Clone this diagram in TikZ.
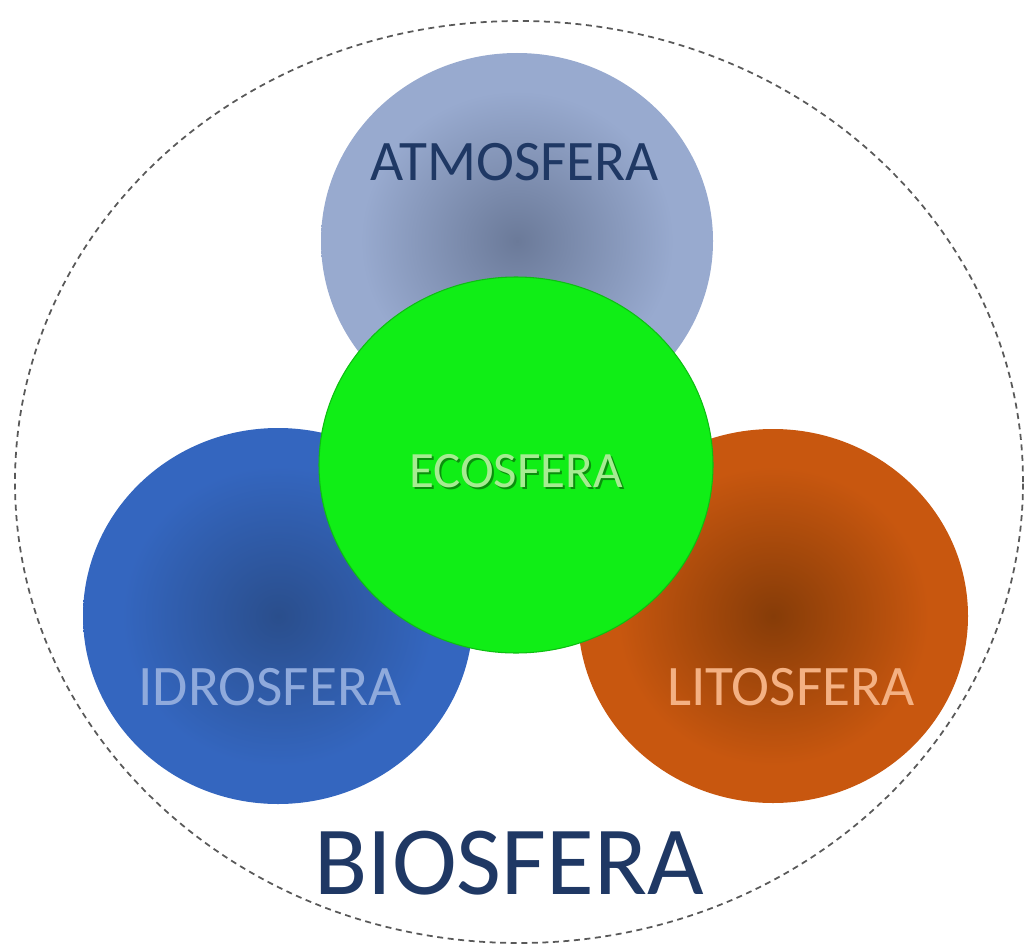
\documentclass[tikz,border=0pt]{standalone}
\usepackage{fontspec}
\setmainfont{Carlito}
\usepackage{tikz}

\definecolor{navy}{HTML}{1F3864}
\definecolor{atmoout}{HTML}{98AACF}
\definecolor{atmoin}{HTML}{6B7A99}
\definecolor{idroout}{HTML}{3466BF}
\definecolor{idroin}{HTML}{2A4E8C}
\definecolor{litoout}{HTML}{C8570F}
\definecolor{litoin}{HTML}{863C08}
\definecolor{ecogreen}{HTML}{10EE16}
\definecolor{ecotext}{HTML}{A6EC92}
\definecolor{idrotext}{HTML}{8FAADC}
\definecolor{litotext}{HTML}{F4B183}
\colorlet{sin}{black}
\colorlet{sout}{white}
\pgfdeclareradialshading[sin,sout]{sfera}{\pgfpoint{0bp}{0bp}}{color(0bp)=(sin); color(9bp)=(sin!55!sout); color(20bp)=(sout); color(50bp)=(sout)}

\begin{document}
\begin{tikzpicture}[
		sfera/.style={font=\fontsize{16.3}{18}\selectfont, inner sep=0pt},
		bordo/.style={gray!70!black, line width=0.5pt, dash pattern=on 1.7pt off 1.3pt}]
				\useasboundingbox (0,0) rectangle (10.25,9.46);
				\draw[bordo] (5.19,4.64) ellipse (5.04 and 4.61);
				\colorlet{sin}{atmoin}\colorlet{sout}{atmoout}
				\shade[shading=sfera] (5.17,7.05) ellipse (1.96 and 1.88);
				\colorlet{sin}{idroin}\colorlet{sout}{idroout}
				\shade[shading=sfera] (2.78,3.30) ellipse (1.95 and 1.88);
				\colorlet{sin}{litoin}\colorlet{sout}{litoout}
				\shade[shading=sfera] (7.73,3.30) ellipse (1.95 and 1.87);
				\fill[ecogreen] (5.16,4.81) ellipse (1.97 and 1.88);
				\draw[ecogreen!80!black, line width=0.3pt] (5.16,4.81) ellipse (1.97 and 1.88);
				\node[sfera, navy] (atmo) at (5.15,7.84) {ATMOSFERA};
				\node[sfera, idrotext] (idro) at (2.70,2.59) {IDROSFERA};
				\node[sfera, litotext] (lito) at (7.91,2.59) {LITOSFERA};
				\node[sfera, ecogreen!60!black, font=\fontsize{14.5}{16}\selectfont] at (5.18,4.73) {ECOSFERA};
				\node[sfera, ecotext, font=\fontsize{14.5}{16}\selectfont] (eco) at (5.16,4.75) {ECOSFERA};
				\node[sfera, navy, font=\fontsize{27.8}{30}\selectfont] (bio) at (5.09,0.83) {BIOSFERA};
				\end{tikzpicture}
\end{document}
